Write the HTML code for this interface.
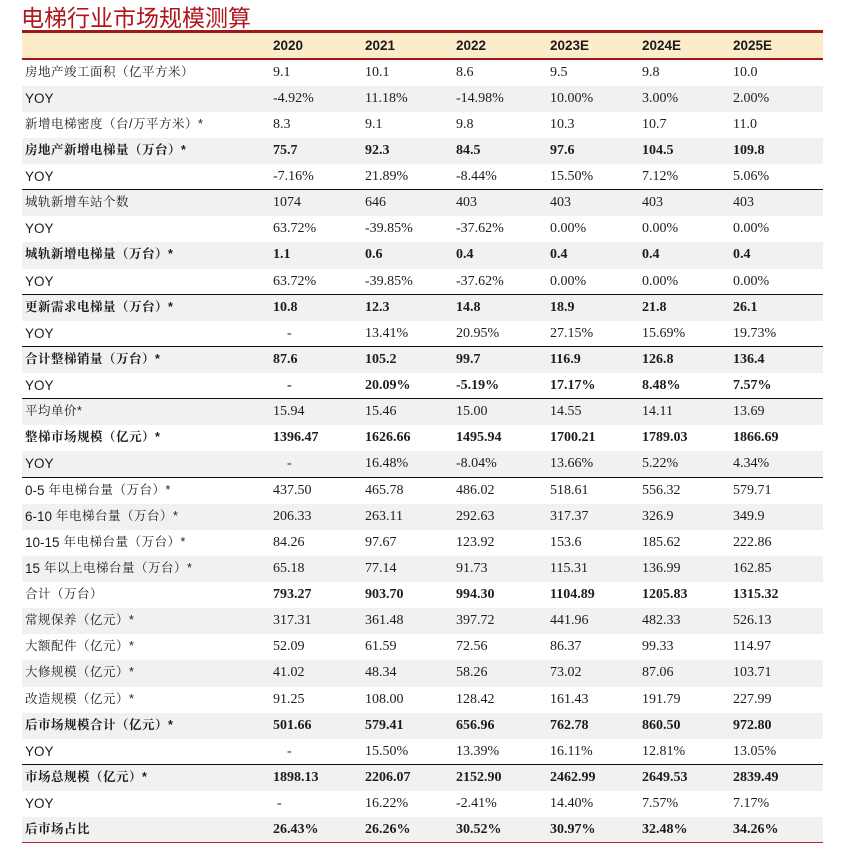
<!DOCTYPE html>
<html><head><meta charset="utf-8">
<style>
html,body{margin:0;padding:0;background:#fff;}
body{width:846px;height:850px;position:relative;overflow:hidden;}
.title{position:absolute;left:21px;top:5px;font-family:"Liberation Sans","Noto Sans CJK SC",sans-serif;font-size:23px;line-height:26px;color:#b0161c;font-weight:400;letter-spacing:0px;white-space:nowrap;}
.tbl{position:absolute;left:22px;top:30px;width:801px;}
.topline{height:2.5px;background:#9b1b1b;}
.hdr{height:25px;background:#fdecca;display:flex;font-family:"Liberation Sans",sans-serif;font-weight:bold;font-size:13.5px;line-height:25px;color:#1a1a1a;}
.hline{height:2px;background:#9b1b1b;}
.row{height:26.13px;box-sizing:border-box;display:flex;line-height:26px;color:#1c1c1c;}
.row.g{background:#f1f1f1;}
.row.sep{border-bottom:1px solid #111;}
.row.last{border-bottom:1.3px solid #b0262a;}
.c0{width:251px;padding-left:3px;box-sizing:border-box;white-space:nowrap;font-family:"Liberation Sans","Noto Serif CJK SC",serif;font-size:12.5px;letter-spacing:0.5px;position:relative;top:-1px;}
.c0 .a{font-family:"Liberation Sans",sans-serif;font-size:13.5px;letter-spacing:0;position:relative;top:1px;}
.row.b .c0{font-weight:bold;}
.c{font-family:"Liberation Serif",serif;font-size:14px;white-space:nowrap;}
.row.bv .c{font-weight:bold;}
.c1{width:92px}.c2{width:91px}.c3{width:94px}.c4{width:92px}.c5{width:91px}.c6{width:90px}
.d{padding-left:14px;}
.d2{padding-left:4px;}
</style></head><body>
<div class="title">电梯行业市场规模测算</div>
<div class="tbl">
<div class="topline"></div>
<div class="hdr"><div class="c0"></div><div class="c1">2020</div><div class="c2">2021</div><div class="c3">2022</div><div class="c4">2023E</div><div class="c5">2024E</div><div class="c6">2025E</div></div>
<div class="hline"></div>

<div class="row"><div class="c0">房地产竣工面积（亿平方米）</div><div class="c c1">9.1</div><div class="c c2">10.1</div><div class="c c3">8.6</div><div class="c c4">9.5</div><div class="c c5">9.8</div><div class="c c6">10.0</div></div>
<div class="row g"><div class="c0"><span class="a">YOY</span></div><div class="c c1">-4.92%</div><div class="c c2">11.18%</div><div class="c c3">-14.98%</div><div class="c c4">10.00%</div><div class="c c5">3.00%</div><div class="c c6">2.00%</div></div>
<div class="row"><div class="c0">新增电梯密度（台/万平方米）*</div><div class="c c1">8.3</div><div class="c c2">9.1</div><div class="c c3">9.8</div><div class="c c4">10.3</div><div class="c c5">10.7</div><div class="c c6">11.0</div></div>
<div class="row g b bv"><div class="c0">房地产新增电梯量（万台）*</div><div class="c c1">75.7</div><div class="c c2">92.3</div><div class="c c3">84.5</div><div class="c c4">97.6</div><div class="c c5">104.5</div><div class="c c6">109.8</div></div>
<div class="row sep"><div class="c0"><span class="a">YOY</span></div><div class="c c1">-7.16%</div><div class="c c2">21.89%</div><div class="c c3">-8.44%</div><div class="c c4">15.50%</div><div class="c c5">7.12%</div><div class="c c6">5.06%</div></div>
<div class="row g"><div class="c0">城轨新增车站个数</div><div class="c c1">1074</div><div class="c c2">646</div><div class="c c3">403</div><div class="c c4">403</div><div class="c c5">403</div><div class="c c6">403</div></div>
<div class="row"><div class="c0"><span class="a">YOY</span></div><div class="c c1">63.72%</div><div class="c c2">-39.85%</div><div class="c c3">-37.62%</div><div class="c c4">0.00%</div><div class="c c5">0.00%</div><div class="c c6">0.00%</div></div>
<div class="row g b bv"><div class="c0">城轨新增电梯量（万台）*</div><div class="c c1">1.1</div><div class="c c2">0.6</div><div class="c c3">0.4</div><div class="c c4">0.4</div><div class="c c5">0.4</div><div class="c c6">0.4</div></div>
<div class="row sep"><div class="c0"><span class="a">YOY</span></div><div class="c c1">63.72%</div><div class="c c2">-39.85%</div><div class="c c3">-37.62%</div><div class="c c4">0.00%</div><div class="c c5">0.00%</div><div class="c c6">0.00%</div></div>
<div class="row g b bv"><div class="c0">更新需求电梯量（万台）*</div><div class="c c1">10.8</div><div class="c c2">12.3</div><div class="c c3">14.8</div><div class="c c4">18.9</div><div class="c c5">21.8</div><div class="c c6">26.1</div></div>
<div class="row sep"><div class="c0"><span class="a">YOY</span></div><div class="c c1"><span class="d">-</span></div><div class="c c2">13.41%</div><div class="c c3">20.95%</div><div class="c c4">27.15%</div><div class="c c5">15.69%</div><div class="c c6">19.73%</div></div>
<div class="row g b bv"><div class="c0">合计整梯销量（万台）*</div><div class="c c1">87.6</div><div class="c c2">105.2</div><div class="c c3">99.7</div><div class="c c4">116.9</div><div class="c c5">126.8</div><div class="c c6">136.4</div></div>
<div class="row sep bv"><div class="c0"><span class="a">YOY</span></div><div class="c c1"><span class="d">-</span></div><div class="c c2">20.09%</div><div class="c c3">-5.19%</div><div class="c c4">17.17%</div><div class="c c5">8.48%</div><div class="c c6">7.57%</div></div>
<div class="row g"><div class="c0">平均单价*</div><div class="c c1">15.94</div><div class="c c2">15.46</div><div class="c c3">15.00</div><div class="c c4">14.55</div><div class="c c5">14.11</div><div class="c c6">13.69</div></div>
<div class="row b bv"><div class="c0">整梯市场规模（亿元）*</div><div class="c c1">1396.47</div><div class="c c2">1626.66</div><div class="c c3">1495.94</div><div class="c c4">1700.21</div><div class="c c5">1789.03</div><div class="c c6">1866.69</div></div>
<div class="row g sep"><div class="c0"><span class="a">YOY</span></div><div class="c c1"><span class="d">-</span></div><div class="c c2">16.48%</div><div class="c c3">-8.04%</div><div class="c c4">13.66%</div><div class="c c5">5.22%</div><div class="c c6">4.34%</div></div>
<div class="row"><div class="c0"><span class="a">0-5</span> 年电梯台量（万台）*</div><div class="c c1">437.50</div><div class="c c2">465.78</div><div class="c c3">486.02</div><div class="c c4">518.61</div><div class="c c5">556.32</div><div class="c c6">579.71</div></div>
<div class="row g"><div class="c0"><span class="a">6-10</span> 年电梯台量（万台）*</div><div class="c c1">206.33</div><div class="c c2">263.11</div><div class="c c3">292.63</div><div class="c c4">317.37</div><div class="c c5">326.9</div><div class="c c6">349.9</div></div>
<div class="row"><div class="c0"><span class="a">10-15</span> 年电梯台量（万台）*</div><div class="c c1">84.26</div><div class="c c2">97.67</div><div class="c c3">123.92</div><div class="c c4">153.6</div><div class="c c5">185.62</div><div class="c c6">222.86</div></div>
<div class="row g"><div class="c0"><span class="a">15</span> 年以上电梯台量（万台）*</div><div class="c c1">65.18</div><div class="c c2">77.14</div><div class="c c3">91.73</div><div class="c c4">115.31</div><div class="c c5">136.99</div><div class="c c6">162.85</div></div>
<div class="row bv"><div class="c0">合计（万台）</div><div class="c c1">793.27</div><div class="c c2">903.70</div><div class="c c3">994.30</div><div class="c c4">1104.89</div><div class="c c5">1205.83</div><div class="c c6">1315.32</div></div>
<div class="row g"><div class="c0">常规保养（亿元）*</div><div class="c c1">317.31</div><div class="c c2">361.48</div><div class="c c3">397.72</div><div class="c c4">441.96</div><div class="c c5">482.33</div><div class="c c6">526.13</div></div>
<div class="row"><div class="c0">大额配件（亿元）*</div><div class="c c1">52.09</div><div class="c c2">61.59</div><div class="c c3">72.56</div><div class="c c4">86.37</div><div class="c c5">99.33</div><div class="c c6">114.97</div></div>
<div class="row g"><div class="c0">大修规模（亿元）*</div><div class="c c1">41.02</div><div class="c c2">48.34</div><div class="c c3">58.26</div><div class="c c4">73.02</div><div class="c c5">87.06</div><div class="c c6">103.71</div></div>
<div class="row"><div class="c0">改造规模（亿元）*</div><div class="c c1">91.25</div><div class="c c2">108.00</div><div class="c c3">128.42</div><div class="c c4">161.43</div><div class="c c5">191.79</div><div class="c c6">227.99</div></div>
<div class="row g b bv"><div class="c0">后市场规模合计（亿元）*</div><div class="c c1">501.66</div><div class="c c2">579.41</div><div class="c c3">656.96</div><div class="c c4">762.78</div><div class="c c5">860.50</div><div class="c c6">972.80</div></div>
<div class="row sep"><div class="c0"><span class="a">YOY</span></div><div class="c c1"><span class="d">-</span></div><div class="c c2">15.50%</div><div class="c c3">13.39%</div><div class="c c4">16.11%</div><div class="c c5">12.81%</div><div class="c c6">13.05%</div></div>
<div class="row g b bv"><div class="c0">市场总规模（亿元）*</div><div class="c c1">1898.13</div><div class="c c2">2206.07</div><div class="c c3">2152.90</div><div class="c c4">2462.99</div><div class="c c5">2649.53</div><div class="c c6">2839.49</div></div>
<div class="row"><div class="c0"><span class="a">YOY</span></div><div class="c c1"><span class="d2">-</span></div><div class="c c2">16.22%</div><div class="c c3">-2.41%</div><div class="c c4">14.40%</div><div class="c c5">7.57%</div><div class="c c6">7.17%</div></div>
<div class="row g b bv last"><div class="c0">后市场占比</div><div class="c c1">26.43%</div><div class="c c2">26.26%</div><div class="c c3">30.52%</div><div class="c c4">30.97%</div><div class="c c5">32.48%</div><div class="c c6">34.26%</div></div>
</div>
</body></html>
